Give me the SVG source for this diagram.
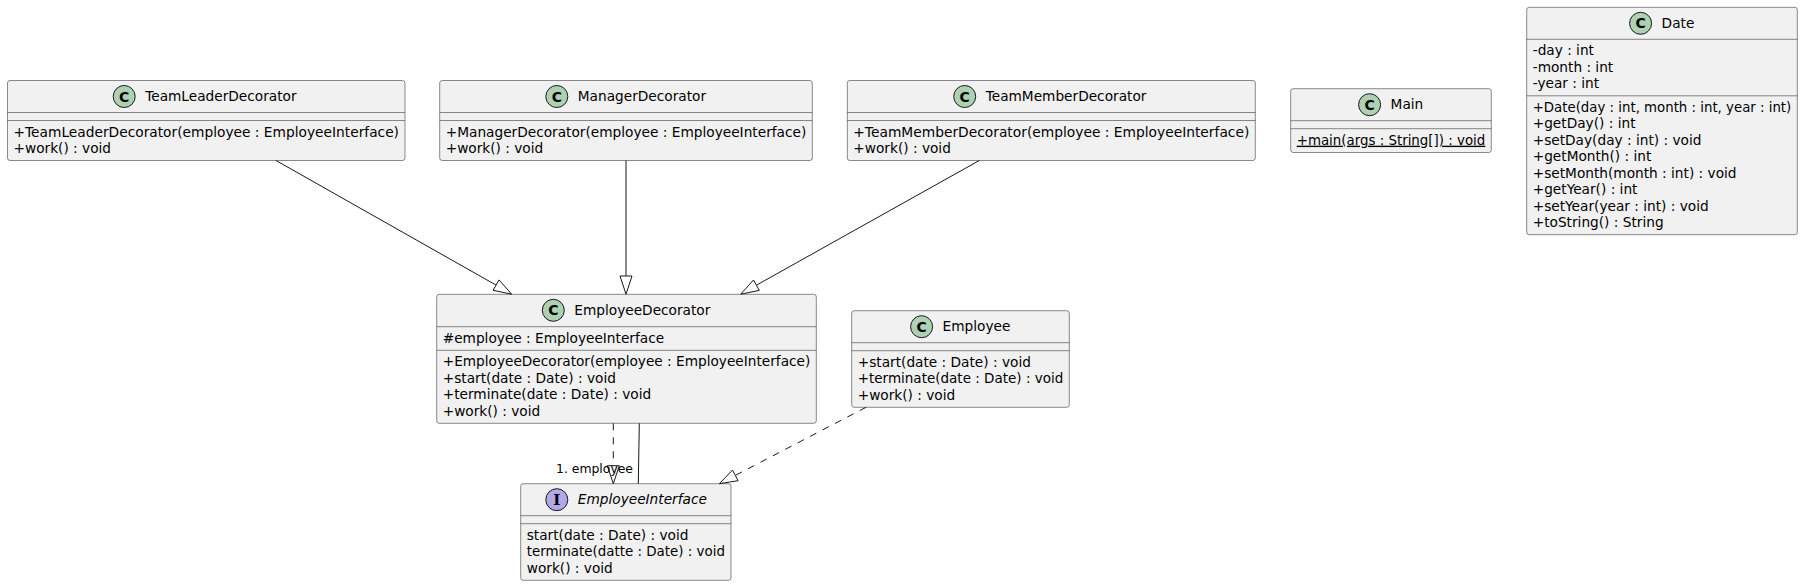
<svg xmlns="http://www.w3.org/2000/svg" width="1803" height="586" viewBox="0 0 1803 586">
<style>
.box{fill:#F1F1F1;stroke:#181818;stroke-width:0.5}
.sep{stroke:#181818;stroke-width:0.5}
.cc{fill:#ADD1B2;stroke:#181818;stroke-width:1}
.ci{fill:#B4A7E5;stroke:#181818;stroke-width:1}
.cl{font-family:"DejaVu Sans",sans-serif;font-weight:bold;font-size:14px;fill:#000;text-anchor:middle}
.il{font-family:"DejaVu Serif",serif;font-weight:bold;font-size:15px;fill:#000;text-anchor:middle}
.t{font-family:"DejaVu Sans",sans-serif;font-size:13.7px;fill:#000}
.it{font-style:italic}
.lbl{font-family:"DejaVu Sans",sans-serif;font-size:13px;fill:#000}
.e{stroke:#181818;stroke-width:1;fill:none}
.d{stroke-dasharray:7,7}
.h{fill:none;stroke:#181818;stroke-width:1}
</style>
<rect width="1803" height="586" fill="#FFFFFF"/>

<g id="TeamLeaderDecorator">
<rect class="box" x="7.5" y="80.5" width="397.5" height="80" rx="2.5"/>
<circle class="cc" cx="124.2" cy="96.5" r="11"/>
<text class="cl" x="124.2" y="101.5">C</text>
<text class="t" x="145.2" y="101">TeamLeaderDecorator</text>
<line class="sep" x1="7.5" y1="112.5" x2="405" y2="112.5"/>
<line class="sep" x1="7.5" y1="120.5" x2="405" y2="120.5"/>
<text class="t" x="13.5" y="136.5" textLength="385.5" lengthAdjust="spacingAndGlyphs">+TeamLeaderDecorator(employee : EmployeeInterface)</text>
<text class="t" x="13.5" y="153">+work() : void</text>
</g>

<g id="ManagerDecorator">
<rect class="box" x="439.7" y="80.5" width="372.6" height="80" rx="2.5"/>
<circle class="cc" cx="556.8" cy="96.5" r="11"/>
<text class="cl" x="556.8" y="101.5">C</text>
<text class="t" x="577.8" y="101">ManagerDecorator</text>
<line class="sep" x1="439.7" y1="112.5" x2="812.3" y2="112.5"/>
<line class="sep" x1="439.7" y1="120.5" x2="812.3" y2="120.5"/>
<text class="t" x="445.7" y="136.5" textLength="360.6" lengthAdjust="spacingAndGlyphs">+ManagerDecorator(employee : EmployeeInterface)</text>
<text class="t" x="445.7" y="153">+work() : void</text>
</g>

<g id="TeamMemberDecorator">
<rect class="box" x="847.3" y="80.5" width="408" height="80" rx="2.5"/>
<circle class="cc" cx="964.7" cy="96.5" r="11"/>
<text class="cl" x="964.7" y="101.5">C</text>
<text class="t" x="985.7" y="101">TeamMemberDecorator</text>
<line class="sep" x1="847.3" y1="112.5" x2="1255.3" y2="112.5"/>
<line class="sep" x1="847.3" y1="120.5" x2="1255.3" y2="120.5"/>
<text class="t" x="853.3" y="136.5" textLength="396" lengthAdjust="spacingAndGlyphs">+TeamMemberDecorator(employee : EmployeeInterface)</text>
<text class="t" x="853.3" y="153">+work() : void</text>
</g>

<g id="Main">
<rect class="box" x="1290.7" y="88.7" width="200.6" height="63.8" rx="2.5"/>
<circle class="cc" cx="1369.6" cy="104.7" r="11"/>
<text class="cl" x="1369.6" y="109.7">C</text>
<text class="t" x="1390.6" y="109.2">Main</text>
<line class="sep" x1="1290.7" y1="120.7" x2="1491.3" y2="120.7"/>
<line class="sep" x1="1290.7" y1="128.7" x2="1491.3" y2="128.7"/>
<text class="t" x="1296.7" y="144.7" textLength="188.6" lengthAdjust="spacingAndGlyphs" text-decoration="underline">+main(args : String[]) : void</text>
</g>

<g id="Date">
<rect class="box" x="1526.7" y="7.3" width="270.6" height="227.4" rx="2.5"/>
<circle class="cc" cx="1640.6" cy="23.3" r="11"/>
<text class="cl" x="1640.6" y="28.3">C</text>
<text class="t" x="1661.6" y="27.8">Date</text>
<line class="sep" x1="1526.7" y1="39.3" x2="1797.3" y2="39.3"/>
<text class="t" x="1532.7" y="55.3">-day : int</text>
<text class="t" x="1532.7" y="71.8">-month : int</text>
<text class="t" x="1532.7" y="88.2">-year : int</text>
<line class="sep" x1="1526.7" y1="95.8" x2="1797.3" y2="95.8"/>
<text class="t" x="1532.7" y="111.8" textLength="258.6" lengthAdjust="spacingAndGlyphs">+Date(day : int, month : int, year : int)</text>
<text class="t" x="1532.7" y="128.3">+getDay() : int</text>
<text class="t" x="1532.7" y="144.7">+setDay(day : int) : void</text>
<text class="t" x="1532.7" y="161.2">+getMonth() : int</text>
<text class="t" x="1532.7" y="177.7">+setMonth(month : int) : void</text>
<text class="t" x="1532.7" y="194.1">+getYear() : int</text>
<text class="t" x="1532.7" y="210.6">+setYear(year : int) : void</text>
<text class="t" x="1532.7" y="227.1">+toString() : String</text>
</g>

<g id="EmployeeDecorator">
<rect class="box" x="436.7" y="294.3" width="379.6" height="129" rx="2.5"/>
<circle class="cc" cx="553.3" cy="310.3" r="11"/>
<text class="cl" x="553.3" y="315.3">C</text>
<text class="t" x="574.3" y="314.8">EmployeeDecorator</text>
<line class="sep" x1="436.7" y1="326.7" x2="816.3" y2="326.7"/>
<text class="t" x="442.7" y="342.7">#employee : EmployeeInterface</text>
<line class="sep" x1="436.7" y1="350.3" x2="816.3" y2="350.3"/>
<text class="t" x="442.7" y="366.3" textLength="367.6" lengthAdjust="spacingAndGlyphs">+EmployeeDecorator(employee : EmployeeInterface)</text>
<text class="t" x="442.7" y="382.8">+start(date : Date) : void</text>
<text class="t" x="442.7" y="399.2">+terminate(date : Date) : void</text>
<text class="t" x="442.7" y="415.7">+work() : void</text>
</g>

<g id="Employee">
<rect class="box" x="851.7" y="310.7" width="217.6" height="96.6" rx="2.5"/>
<circle class="cc" cx="921.6" cy="326.7" r="11"/>
<text class="cl" x="921.6" y="331.7">C</text>
<text class="t" x="942.6" y="331.2">Employee</text>
<line class="sep" x1="851.7" y1="342.7" x2="1069.3" y2="342.7"/>
<line class="sep" x1="851.7" y1="350.7" x2="1069.3" y2="350.7"/>
<text class="t" x="857.7" y="366.7">+start(date : Date) : void</text>
<text class="t" x="857.7" y="383.2" textLength="205.6" lengthAdjust="spacingAndGlyphs">+terminate(date : Date) : void</text>
<text class="t" x="857.7" y="399.6">+work() : void</text>
</g>

<g id="EmployeeInterface">
<rect class="box" x="520.7" y="483.7" width="210.3" height="96.6" rx="2.5"/>
<circle class="ci" cx="556.8" cy="499.7" r="11"/>
<text class="il" x="556.8" y="505">I</text>
<text class="t it" x="577.8" y="504.2">EmployeeInterface</text>
<line class="sep" x1="520.7" y1="515.7" x2="731" y2="515.7"/>
<line class="sep" x1="520.7" y1="523.7" x2="731" y2="523.7"/>
<text class="t" x="526.7" y="539.9">start(date : Date) : void</text>
<text class="t" x="526.7" y="556.4" textLength="198.3" lengthAdjust="spacingAndGlyphs">terminate(datte : Date) : void</text>
<text class="t" x="526.7" y="572.8">work() : void</text>
</g>

<g id="connectors">
<line class="e" x1="276" y1="160.5" x2="496.05" y2="285.1"/>
<polygon class="h" points="511.7,294.2 493.1,290.3 499,279.9"/>
<line class="e" x1="626" y1="160.5" x2="626" y2="276"/>
<polygon class="h" points="626,294.2 620,276 632,276"/>
<line class="e" x1="979.3" y1="160.5" x2="756.4" y2="285.2"/>
<polygon class="h" points="740.7,294.2 759.3,290.4 753.5,280"/>
<line class="e d" x1="613.3" y1="423.3" x2="613.3" y2="465.7"/>
<polygon class="h" points="613.3,483.7 607.3,465.7 619.3,465.7"/>
<line class="e" x1="639.3" y1="423.3" x2="638.3" y2="483.7"/>
<text class="lbl" x="556" y="473.3" textLength="77" lengthAdjust="spacingAndGlyphs">1. employee</text>
<line class="e d" x1="866" y1="407.3" x2="735.3" y2="475.4"/>
<polygon class="h" points="719.3,483.7 738.1,480.7 732.5,470.1"/>
</g>
</svg>
